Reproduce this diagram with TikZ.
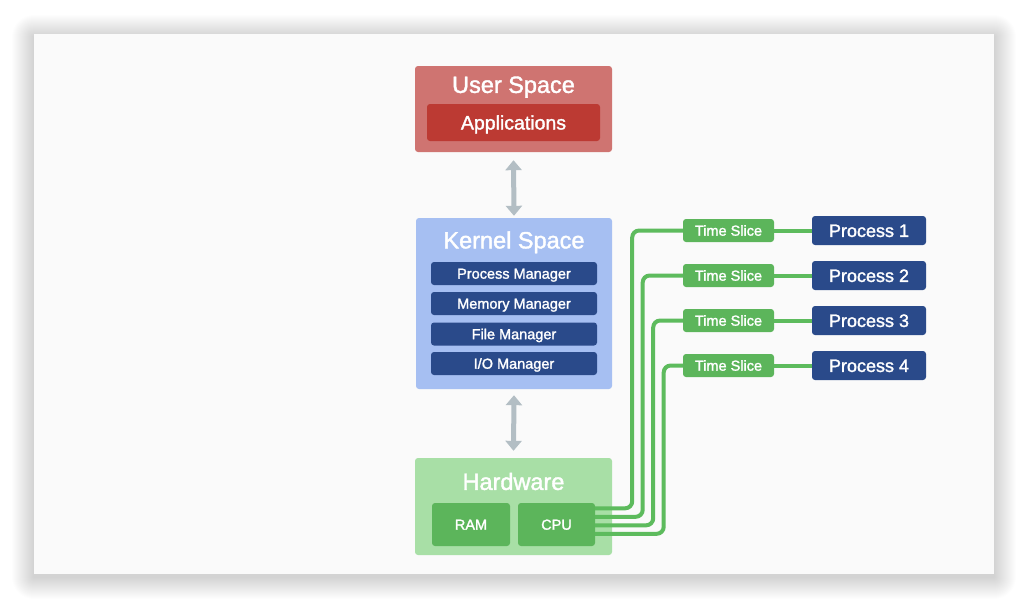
\documentclass[tikz,border=0pt]{standalone}
\usepackage{fontspec}
\setmainfont{Liberation Sans}[BoldFont={Liberation Sans}, BoldFeatures={FakeBold=1.6}]
\usetikzlibrary{arrows.meta,calc}
\definecolor{cardfill}{HTML}{FAFAFA}
\definecolor{userout}{HTML}{CF7471}
\definecolor{userin}{HTML}{BC3A33}
\definecolor{kernout}{HTML}{A6BFF2}
\definecolor{navy}{HTML}{2A4A8A}
\definecolor{hwout}{HTML}{A8DFA6}
\definecolor{hwin}{HTML}{5CB55B}
\definecolor{gline}{HTML}{5DBB5D}
\definecolor{arrowgray}{HTML}{B3BEC4}
\tikzset{
  boxbase/.style={rectangle, rounded corners=3pt, inner sep=0pt, text=white, anchor=center, text depth=0pt},
  titletext/.style={inner sep=0pt, text=white, text height=16.8pt, text depth=0pt, font=\fontsize{23.5}{26}\selectfont\bfseries},
  subbox/.style={boxbase, fill=navy, minimum width=166pt, minimum height=23pt, text height=10.4pt, font=\fontsize{14.5}{16}\selectfont\bfseries},
  tsbox/.style={boxbase, fill=hwin, minimum width=91pt, minimum height=23pt, text height=10.4pt, font=\fontsize{14.5}{16}\selectfont\bfseries},
  procbox/.style={boxbase, fill=navy, minimum width=114pt, minimum height=29pt, text height=12.9pt, font=\fontsize{18}{20}\selectfont\bfseries},
  chipbox/.style={boxbase, fill=hwin, minimum height=43pt, text height=10.4pt, font=\fontsize{14.5}{16}\selectfont\bfseries},
  grayarrow/.style={draw=arrowgray, line width=5pt, {Triangle[width=16pt,length=10pt]}-{Triangle[width=16pt,length=10pt]}},
  greenline/.style={draw=gline, line width=4pt, rounded corners=7pt},
  shadowlayer/.style={fill=black, fill opacity=0.007}
}
\begin{document}
\begin{tikzpicture}[x=1pt,y=-1pt]
\fill[white] (0,0) rectangle (1028,608);
\useasboundingbox (0,0) rectangle (1028,608);
% card shadow
\foreach \r in {1,...,22}{
  \fill[shadowlayer, rounded corners=\r pt] (34-\r,34-\r+3) rectangle (994+\r,574+\r+3);
}
\fill[cardfill] (34,34) rectangle (994,574);

% User space
\node[boxbase, fill=userout, minimum width=197pt, minimum height=86pt] (user) at (513.5,109) {};
\node[titletext] (usertitle) at (513.5,84.5) {User Space};
\node[boxbase, fill=userin, minimum width=173pt, minimum height=37pt, text height=14pt, font=\fontsize{19.5}{22}\selectfont\bfseries] (apps) at (513.5,122.5) {Applications};

% Kernel space
\node[boxbase, fill=kernout, minimum width=196pt, minimum height=171pt] (kernel) at (514,303.5) {};
\node[titletext] (kerneltitle) at (514,240) {Kernel Space};
\node[subbox] (pm) at (514,273.5) {Process Manager};
\node[subbox] (mm) at (514,303.5) {Memory Manager};
\node[subbox] (fm) at (514,334) {File Manager};
\node[subbox] (io) at (514,363.5) {I/O Manager};

% Hardware
\node[boxbase, fill=hwout, minimum width=197pt, minimum height=97pt] (hw) at (513.5,506.5) {};
\node[titletext] (hwtitle) at (513.5,481.5) {Hardware};
\node[chipbox, minimum width=78pt] (ram) at (471,524.5) {RAM};
\node[chipbox, minimum width=77pt] (cpu) at (556.5,524.5) {CPU};

% arrows
\draw[grayarrow] ($(user.south)+(0,8)$) -- ($(kernel.north)+(0,-2)$);
\draw[grayarrow] ($(kernel.south)+(0,6)$) -- ($(hw.north)+(0,-7)$);

% time slices and processes
\foreach \i/\y in {1/230.5,2/275.5,3/320.5,4/365.5}{
  \node[tsbox] (ts\i) at (728.5,\y) {Time Slice};
  \node[procbox] (p\i) at (869,\y) {Process \i};
}
\foreach \i in {1,2,3,4}{
  \draw[draw=gline, line width=4pt] (ts\i.east) -- (p\i.west);
}
% CPU lines
\draw[greenline] ($(cpu.north east)+(0,5.5)$) -- ++(37,0) |- (ts1.west);
\draw[greenline] ($(cpu.north east)+(0,14)$) -- ++(47.5,0) |- (ts2.west);
\draw[greenline] ($(cpu.north east)+(0,22.5)$) -- ++(58,0) |- (ts3.west);
\draw[greenline] ($(cpu.north east)+(0,31)$) -- ++(68.5,0) |- (ts4.west);
\end{tikzpicture}
\end{document}
